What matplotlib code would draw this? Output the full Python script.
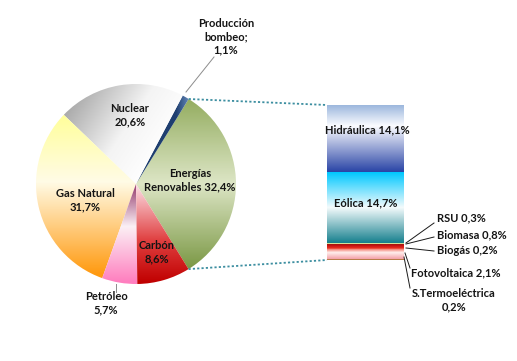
import numpy as np
import matplotlib
matplotlib.use("Agg")
import matplotlib.pyplot as plt
from matplotlib.colors import LinearSegmentedColormap

# ---- data ----
pie_labels = ["Energías\nRenovables 32,4%", "Producción\nbombeo;\n1,1%", "Nuclear\n20,6%",
              "Gas Natural\n31,7%", "Petróleo\n5,7%", "Carbón\n8,6%"]
pie_values = [32.4, 1.1, 20.6, 31.7, 5.7, 8.6]

bar_labels = ["Hidráulica 14,1%", "Eólica 14,7%", "RSU 0,3%", "Biomasa 0,8%",
              "Biogás 0,2%", "Fotovoltaica 2,1%", "S.Termoeléctrica\n0,2%"]
bar_values = [14.1, 14.7, 0.3, 0.8, 0.2, 2.1, 0.2]

W, H = 517, 361
FONT = dict(family="Lato", weight="bold", size=8, color="#141414")

fig = plt.figure(figsize=(W / 100, H / 100), dpi=100)
ax = fig.add_axes([0, 0, 1, 1])
ax.set_xlim(0, W)
ax.set_ylim(0, H)
ax.axis("off")


def Y(y):
    return H - y


def grad_fill(patch, p0, p1, colors, z=2):
    """fill patch with linear gradient from p0 to p1 (data coords)"""
    ext = patch.get_patch_transform().transform_path(patch.get_path()).get_extents()
    x0, y0, x1, y1 = ext.x0, ext.y0, ext.x1, ext.y1
    nx, ny = 200, 200
    X, Yg = np.meshgrid(np.linspace(x0, x1, nx), np.linspace(y0, y1, ny))
    d = np.array(p1, float) - np.array(p0, float)
    t = ((X - p0[0]) * d[0] + (Yg - p0[1]) * d[1]) / (d @ d)
    t = np.clip(t, 0, 1)
    cmap = LinearSegmentedColormap.from_list("g", colors)
    img = cmap(t)
    im = ax.imshow(img, extent=[x0, x1, y0, y1], origin="lower",
                   interpolation="bilinear", zorder=z)
    im.set_clip_path(patch)
    patch.set_facecolor("none")
    patch.set_edgecolor("none")


# ---- pie ----
cx, cy, R = 136, Y(184), 100
start = -pie_values[0] * 3.6 / 2
wedges, _ = ax.pie(pie_values, startangle=start, counterclock=True,
                   center=(cx, cy), radius=R, frame=True)
ax.set_xlim(0, W)
ax.set_ylim(0, H)

pie_grads = [
    ((cx, Y(88)), (cx, Y(280)), [(0, "#8aa552"), (0.5, "#dde6c6"), (1, "#6e8e34")]),
    ((cx + 40, cy), (cx + 55, cy), [(0, "#1f3f70"), (1, "#6f93c4")]),
    ((60, Y(110)), (150, Y(170)), [(0, "#a4a4a4"), (0.6, "#f4f4f4"), (1, "#ffffff")]),
    ((cx, Y(115)), (cx, Y(275)), [(0, "#ffff9a"), (0.42, "#fffbe6"), (1, "#ff9a10")]),
    ((cx, Y(190)), (cx, Y(282)), [(0, "#a04f7c"), (0.4, "#fbf0f5"), (1, "#ff7fbf")]),
    ((cx, Y(188)), (cx, Y(283)), [(0, "#fbd4dc"), (0.55, "#e04040"), (1, "#c00000")]),
]
for w, (p0, p1, cols) in zip(wedges, pie_grads):
    grad_fill(w, p0, p1, cols, z=2)

# ---- bar ----
bar_top = Y(105)
bar_h_total = 155.0
k = bar_h_total / sum(bar_values)
bx, bw = 365.5, 77
heights = [v * k for v in bar_values]
bottoms = [bar_top - sum(heights[:i + 1]) for i in range(len(heights))]
bars = ax.bar([bx] * len(bar_values), heights, bottom=bottoms, width=bw, zorder=2)

bar_grads = [
    [(0, "#98b4dc"), (0.32, "#fbfcff"), (1, "#2a45a6")],
    [(0, "#00c8ff"), (0.5, "#f4fbfc"), (1, "#17808e")],
    [(0, "#dbe8a8"), (1, "#cfe09a")],
    [(0, "#9a1a10"), (0.3, "#c01010"), (1, "#e83020")],
    [(0, "#e84030"), (1, "#f06050")],
    [(0, "#f06050"), (0.4, "#fff0ee"), (1, "#f4a0a8")],
    [(0, "#a0522d"), (1, "#d8b870")],
]
for b, cols in zip(bars, bar_grads):
    x0 = b.get_x()
    yb, yt = b.get_y(), b.get_y() + b.get_height()
    grad_fill(b, (x0, yt), (x0, yb), cols, z=2)

ax.set_xlim(0, W)
ax.set_ylim(0, H)
ax.set_aspect("auto")

# ---- connectors ----
ren = wedges[0]
r = ren.r
a1, a2 = np.deg2rad(ren.theta1), np.deg2rad(ren.theta2)
p_top = (cx + r * np.cos(a2), cy + r * np.sin(a2))
p_bot = (cx + r * np.cos(a1), cy + r * np.sin(a1))
bl = bars[0].get_x()
ax.plot([p_top[0], bl], [p_top[1], bar_top], ls=(0, (1.2, 1.2)), color="#3c8ea0", lw=1.3, zorder=3)
ax.plot([p_bot[0], bl], [p_bot[1], bottoms[-1]], ls=(0, (1.2, 1.2)), color="#3c8ea0", lw=1.3, zorder=3)

# ---- pie labels ----
pie_pos = [(190, 180), (226, 37), (130, 115), (85, 200), (106, 303), (157, 252)]
for lab, (x, y) in zip(pie_labels, pie_pos):
    ax.text(x, Y(y), lab, ha="center", va="center", linespacing=1.25, zorder=5, **FONT)
ax.plot([214, 186], [Y(57), Y(92)], color="#8c8c8c", lw=0.7, zorder=4)
ax.plot([116, 116], [Y(284), Y(292)], color="#8c8c8c", lw=0.7, zorder=4)

# ---- bar labels ----
ax.text(367, Y(130), bar_labels[0], ha="center", va="center", zorder=5, **FONT)
ax.text(366, Y(203), bar_labels[1], ha="center", va="center", zorder=5, **FONT)
side = [
    (437, 218, "left", (406, 243), (434, 223)),
    (437, 235, "left", (406, 244), (434, 237)),
    (437, 251, "left", (406, 248), (434, 251)),
    (411, 273, "left", (405, 253), (410, 268)),
    (454, 300, "center", (404, 257), (410, 288)),
]
for lab, (x, y, ha, q0, q1) in zip(bar_labels[2:], side):
    ax.text(x, Y(y), lab, ha=ha, va="center", linespacing=1.25, zorder=5, **FONT)
    ax.plot([q0[0], q1[0]], [Y(q0[1]), Y(q1[1])], color="#1a1a1a", lw=0.7, zorder=4)

fig.savefig("out.png", dpi=100, facecolor="white")
